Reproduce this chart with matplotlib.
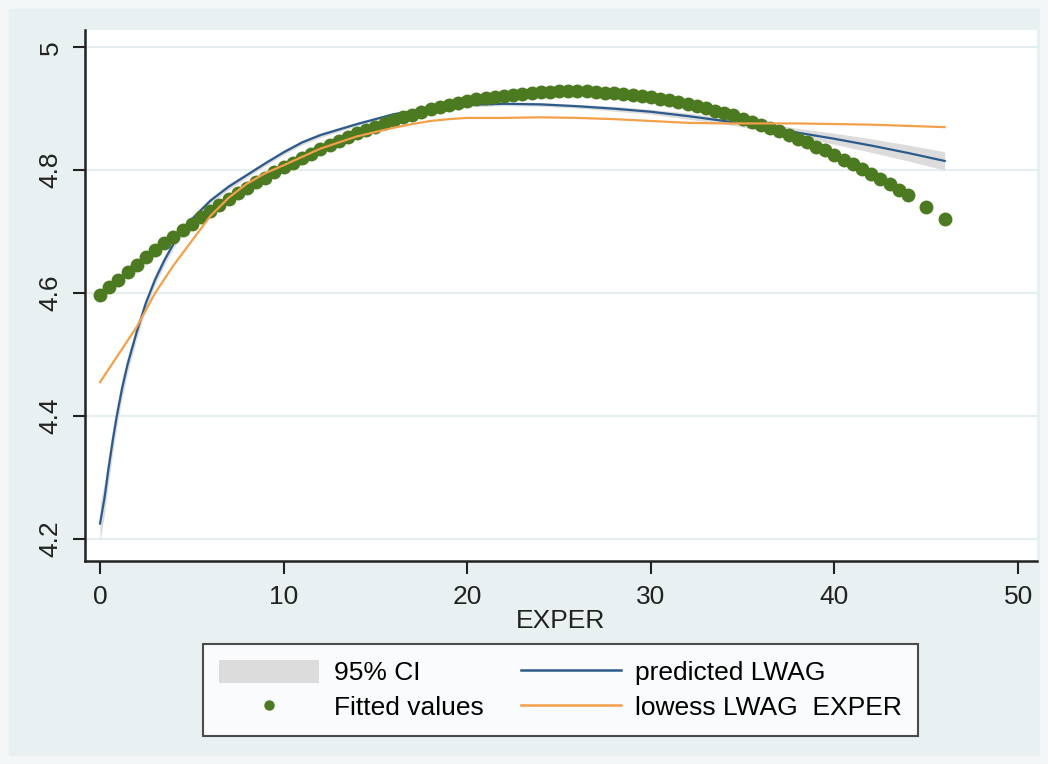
import matplotlib
matplotlib.use('Agg')
import numpy as np
import matplotlib.pyplot as plt
from matplotlib.lines import Line2D
from matplotlib.patches import Patch, Rectangle

plt.rcParams['font.family'] = ['Liberation Sans', 'DejaVu Sans']

# fitted values (quadratic fit of LWAG on EXPER)
fit_x = [i * 0.5 for i in range(89)] + [45, 46]
fit_y = [4.597, 4.610, 4.622, 4.634, 4.646, 4.658, 4.670, 4.681, 4.692, 4.703,
         4.713, 4.724, 4.734, 4.743, 4.753, 4.762, 4.771, 4.780, 4.788, 4.797,
         4.805, 4.812, 4.820, 4.827, 4.834, 4.841, 4.847, 4.854, 4.860, 4.865,
         4.871, 4.876, 4.881, 4.886, 4.890, 4.895, 4.899, 4.902, 4.906, 4.909,
         4.912, 4.915, 4.917, 4.919, 4.921, 4.923, 4.924, 4.926, 4.927, 4.927,
         4.928, 4.928, 4.928, 4.928, 4.927, 4.926, 4.925, 4.924, 4.922, 4.921,
         4.919, 4.916, 4.914, 4.911, 4.908, 4.904, 4.901, 4.897, 4.893, 4.889,
         4.884, 4.879, 4.874, 4.869, 4.863, 4.857, 4.851, 4.845, 4.838, 4.832,
         4.825, 4.817, 4.810, 4.802, 4.794, 4.785, 4.777, 4.768, 4.759,
         4.740, 4.720]

# fractional polynomial prediction and its 95% CI half-width
pred_x = [0, 0.25, 0.45, 0.7, 0.9, 1.2, 1.5, 2, 2.5, 3, 3.5, 4, 4.5, 5, 6, 7, 8,
          9, 10, 11, 12, 14, 16, 18, 20, 22, 24, 26, 28, 30, 32, 34, 36, 38, 40,
          42, 44, 46]
pred_y = [4.225, 4.268, 4.312, 4.362, 4.398, 4.445, 4.484, 4.537, 4.584, 4.622,
          4.653, 4.680, 4.702, 4.720, 4.750, 4.773, 4.792, 4.811, 4.829, 4.845,
          4.857, 4.875, 4.891, 4.901, 4.906, 4.908, 4.907, 4.904, 4.900, 4.895,
          4.888, 4.880, 4.871, 4.861, 4.851, 4.840, 4.828, 4.815]
ci_half = [0.030, 0.026, 0.023, 0.020, 0.018, 0.016, 0.014, 0.011, 0.010, 0.009,
           0.008, 0.007, 0.006, 0.006, 0.005, 0.005, 0.004, 0.004, 0.004, 0.004,
           0.004, 0.003, 0.003, 0.003, 0.003, 0.003, 0.003, 0.003, 0.004, 0.004,
           0.005, 0.005, 0.006, 0.007, 0.009, 0.011, 0.013, 0.015]

# lowess LWAG EXPER
low_x = [0, 1, 2, 3, 4, 5, 6, 7, 8, 9, 10, 12, 14, 16, 17, 18, 19, 20, 22, 24,
         26, 28, 30, 32, 34, 36, 38, 40, 42, 44, 46]
low_y = [4.455, 4.500, 4.545, 4.600, 4.645, 4.685, 4.725, 4.755, 4.778, 4.795,
         4.808, 4.835, 4.855, 4.869, 4.875, 4.880, 4.883, 4.885, 4.885, 4.886,
         4.885, 4.883, 4.880, 4.877, 4.876, 4.876, 4.876, 4.875, 4.874, 4.872,
         4.870]

blue = '#2c5a8c'
orange = '#f2a04a'
green = '#4b7a20'
bg = '#e8f0f2'

fig = plt.figure(figsize=(10.48, 7.64), dpi=100, facecolor=bg)
fig.patches.append(Rectangle((0, 0), 1, 1, transform=fig.transFigure,
                             facecolor='none', edgecolor='#f3f7f8', lw=12))
ax = fig.add_axes([0.0811, 0.2657, 0.9084, 0.695])

lo = np.array(pred_y) - np.array(ci_half)
hi = np.array(pred_y) + np.array(ci_half)
ax.fill_between(pred_x, lo, hi, color='#dcdcdc', lw=0, zorder=2)
ax.plot(pred_x, pred_y, color=blue, lw=1.6, zorder=3)
ax.plot(fit_x, fit_y, 'o', color=green, ms=10, mew=0, zorder=4)
ax.plot(low_x, low_y, color=orange, lw=1.6, zorder=5)

ax.set_xlim(-0.82, 51.03)
ax.set_ylim(4.164, 5.028)
ax.set_xticks([0, 10, 20, 30, 40, 50])
ax.set_yticks([4.2, 4.4, 4.6, 4.8, 5])
ax.set_yticklabels(['4.2', '4.4', '4.6', '4.8', '5'], rotation=90, va='center')
ax.grid(axis='y', color='#e4eef0', lw=1.5)
ax.set_axisbelow(True)
for s in ['top', 'right']:
    ax.spines[s].set_visible(False)
for s in ['left', 'bottom']:
    ax.spines[s].set_linewidth(1.8)
    ax.spines[s].set_color('#222222')
ax.tick_params(length=9, width=1.5, color='#222222', labelsize=19,
               labelcolor='#222222')
ax.tick_params(axis='y', pad=7)
ax.tick_params(axis='x', pad=8)
ax.set_xlabel('EXPER', fontsize=19, color='#222222', labelpad=0)

handles = [Patch(facecolor='#dcdcdc', edgecolor='none'),
           Line2D([], [], color=green, marker='o', ls='none', ms=7.5, mew=0),
           Line2D([], [], color=blue, lw=1.8),
           Line2D([], [], color=orange, lw=1.8)]
labels = ['95% CI', 'Fitted values', 'predicted LWAG', 'lowess LWAG  EXPER']
leg = fig.legend(handles, labels, ncol=2, loc='center',
                 bbox_to_anchor=(0.535, 0.0969), fontsize=19, frameon=True,
                 fancybox=False, edgecolor='#222222', handlelength=3.8,
                 handleheight=1.0, handletextpad=0.55, columnspacing=1.4,
                 labelspacing=0.35, borderpad=0.6)
leg.get_frame().set_linewidth(1.5)

fig.savefig('out.png', dpi=100, facecolor=bg)
